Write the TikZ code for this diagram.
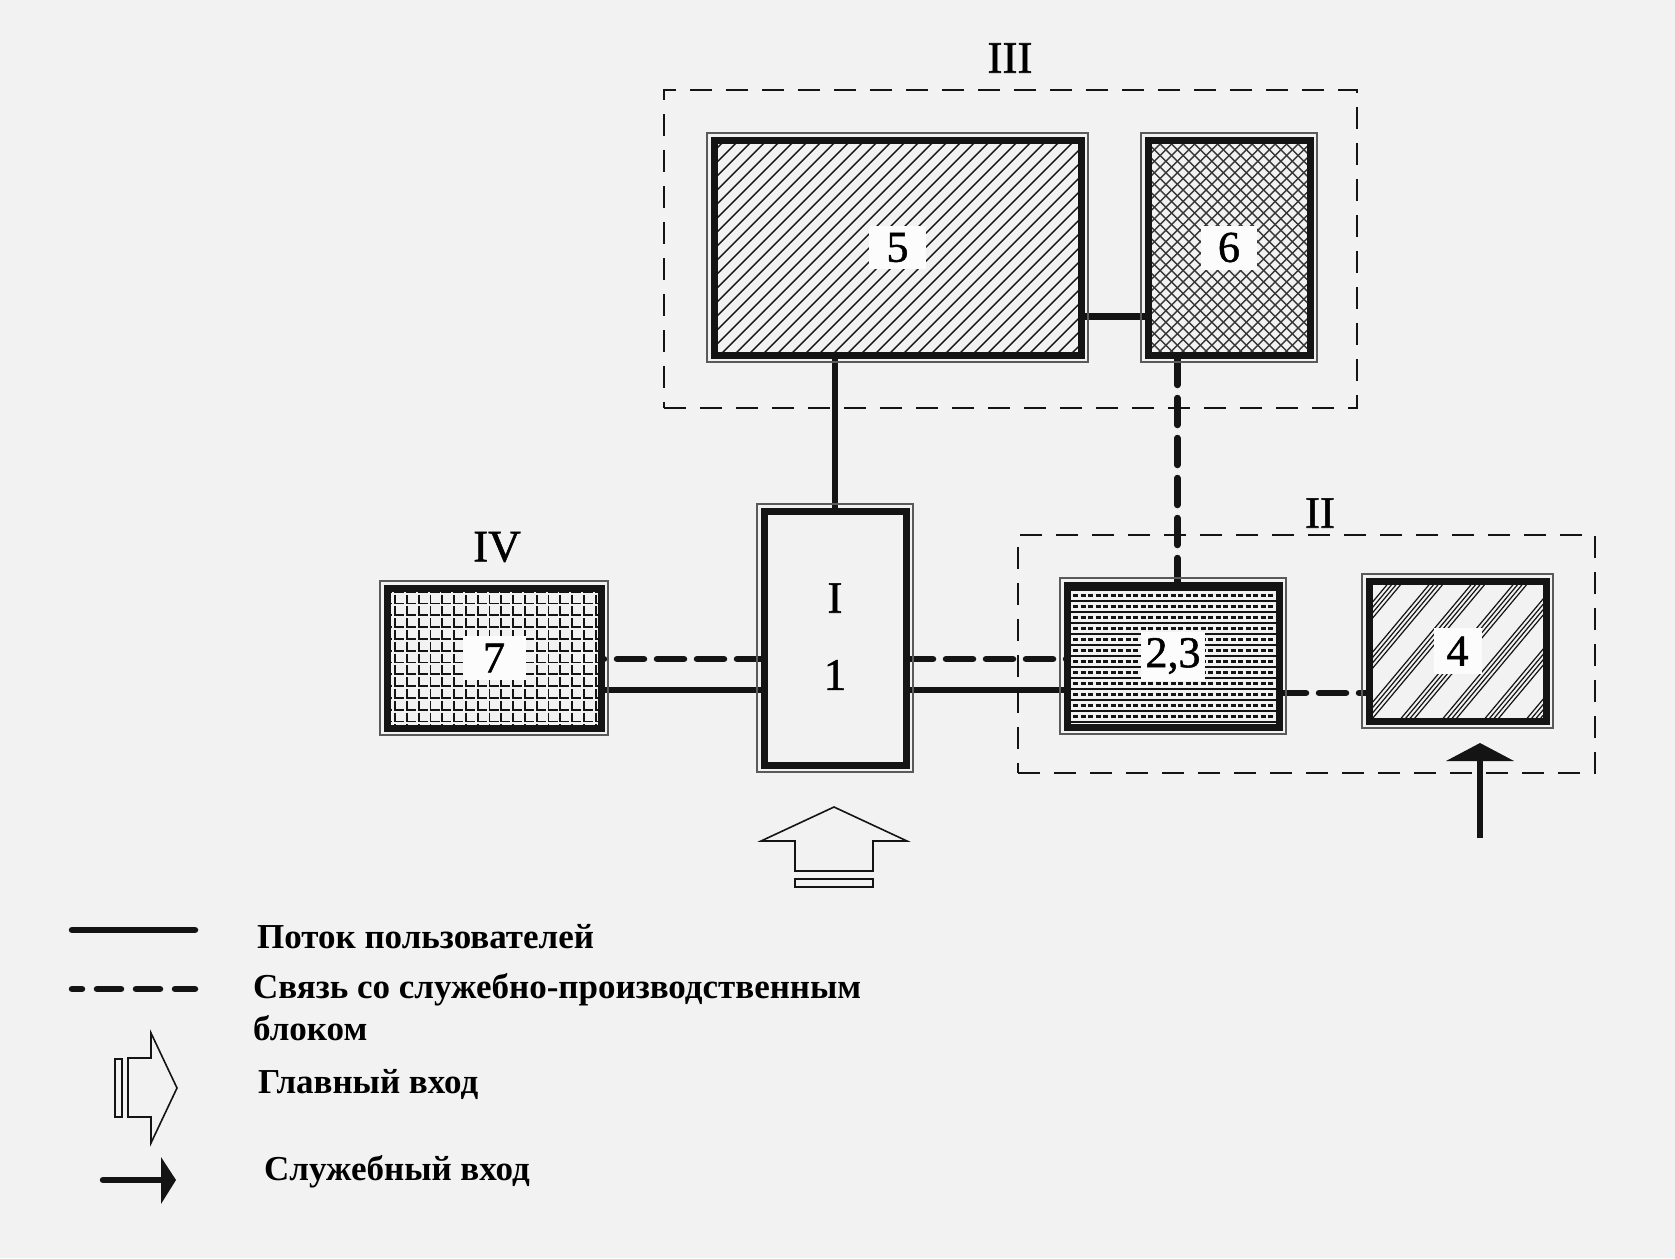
\documentclass[tikz,border=0pt]{standalone}
\usepackage{fontspec}
\setmainfont{Liberation Serif}
\newfontfamily\lblfont{Liberation Serif}[FakeBold=1.2]
\usetikzlibrary{calc}
\definecolor{paper}{RGB}{242,242,242}
\definecolor{ink}{RGB}{20,20,20}
\definecolor{lblwhite}{RGB}{252,252,252}
\newcommand\boxrim[1]{\draw[rim] ([shift={(-7pt,7pt)}]#1.north west) rectangle ([shift={(7pt,-7pt)}]#1.south east);}
\begin{document}
\begin{tikzpicture}[x=1pt,y=-1pt,
  box/.style={draw=ink, line width=7pt, rectangle, outer sep=0pt, inner sep=0pt, fill=paper},
  rim/.style={draw=ink!70, line width=1.3pt},
  region/.style={draw=ink, line width=1.8pt, dash pattern=on 22pt off 14pt, rectangle, inner sep=0pt, outer sep=0pt},
  conn/.style={ink, line width=6.5pt},
  dconn/.style={ink, line width=6.5pt, dash pattern=on 27pt off 13pt, line cap=round},
  lbl/.style={fill=lblwhite, inner sep=0pt, font=\lblfont\fontsize{44}{50}\selectfont},
  rlabel/.style={inner sep=0pt, font=\lblfont\fontsize{45}{50}\selectfont},
  legtext/.style={anchor=west, inner sep=0pt, align=left, font=\bfseries\fontsize{35}{42}\selectfont},
  hatchdiag/.style={path picture={
    \foreach \i in {-25,...,25}
      \draw[ink, line width=1.4pt] ([xshift=\i*14pt]path picture bounding box.center) ++(-260pt,-260pt) -- ++(520pt,520pt);
  }},
  hatchcross/.style={path picture={
    \foreach \i in {-18,...,18}{
      \draw[ink!85, line width=1.4pt] ([xshift=\i*11.5pt]path picture bounding box.center) ++(-260pt,-260pt) -- ++(520pt,520pt);
      \draw[ink!85, line width=1.4pt] ([xshift=\i*11.5pt]path picture bounding box.center) ++(-260pt,260pt) -- ++(520pt,-520pt);}
  }},
  hatchgrid/.style={path picture={
    \foreach \i in {-9,...,9}{\foreach \j in {-6,...,6}{
      \draw[ink, line width=1.7pt] ([shift={(\i*11.8pt-4.5pt,\j*11.8pt+4.5pt)}]path picture bounding box.center) -- ++(0pt,-9pt) -- ++(9pt,0pt);}}
  }},
  hatchhor/.style={path picture={
    \foreach \j in {-7,...,7}{
      \draw[ink, line width=1.5pt] ([yshift=\j*11pt]path picture bounding box.center) ++(-130pt,0pt) -- ++(260pt,0pt);
      \draw[ink, line width=2.2pt, dash pattern=on 5pt off 2.5pt] ([yshift=\j*11pt+5.5pt]path picture bounding box.center) ++(-130pt,0pt) -- ++(260pt,0pt);}
  }},
  hatchgroup/.style={path picture={
    \foreach \g in {-6,...,6}{\foreach \k in {0,...,3}{
      \draw[ink, line width=1.2pt] ([xshift=\g*42pt+\k*4.5pt]path picture bounding box.center) ++(-150pt,-179pt) -- ++(300pt,358pt);}}
  }}
]
\fill[paper] (0,0) rectangle (1675,1258);
\useasboundingbox (0,0) rectangle (1675,1258);

% zone frames
\node[region, minimum width=693pt, minimum height=318pt] (rIII) at (1010.5,249) {};
\node[region, minimum width=577pt, minimum height=238pt] (rII) at (1306.5,654) {};
\node[rlabel] (tIII) at (1010,58) {III};
\node[rlabel] (tII) at (1320,513) {II};
\node[rlabel] (tIV) at (497,547) {IV};

% boxes (geometry)
\path (897.5,247.5) coordinate (c5) (1229,247.5) coordinate (c6) (494,658) coordinate (c7)
      (835,638) coordinate (c1) (1173,656) coordinate (c23) (1457.5,651) coordinate (c4);
\node[box, minimum width=367pt, minimum height=215pt] (b5) at (c5) {};
\node[box, minimum width=162pt, minimum height=215pt] (b6) at (c6) {};
\node[box, minimum width=214pt, minimum height=140pt] (b7) at (c7) {};
\node[box, minimum width=142pt, minimum height=254pt] (b1) at (c1) {};
\node[box, minimum width=212pt, minimum height=142pt] (b23) at (c23) {};
\node[box, minimum width=177pt, minimum height=140pt] (b4) at (c4) {};

% connectors
\draw[conn] (b1.north) -- (b1.north |- b5.south);
\draw[conn] ($(b5.north east)!0.822!(b5.south east)$) coordinate (p56) -- (p56 -| b6.west);
\draw[dconn] ($(b23.north west)!0.52!(b23.north east)$) coordinate (p623) -- (p623 |- b6.south);
\draw[dconn] ($(b1.north west)!0.583!(b1.south west)$) coordinate (pd1) -- (pd1 -| b7.east);
\draw[conn] ($(b1.north west)!0.705!(b1.south west)$) coordinate (ps1) -- (ps1 -| b7.east);
\draw[dconn] ($(b1.north east)!0.583!(b1.south east)$) coordinate (pd2) -- (pd2 -| b23.west);
\draw[conn] ($(b1.north east)!0.705!(b1.south east)$) coordinate (ps2) -- (ps2 -| b23.west);
\draw[dconn] ($(b23.north east)!0.761!(b23.south east)$) coordinate (p234) -- (p234 -| b4.west);

% boxes drawn on top
\node[box, hatchdiag, minimum width=367pt, minimum height=215pt] at (c5) {};
\node[box, hatchcross, minimum width=162pt, minimum height=215pt] at (c6) {};
\node[box, hatchgrid, minimum width=214pt, minimum height=140pt] at (c7) {};
\node[box, minimum width=142pt, minimum height=254pt] at (c1) {};
\node[box, hatchhor, minimum width=212pt, minimum height=142pt] at (c23) {};
\node[box, hatchgroup, minimum width=177pt, minimum height=140pt] at (c4) {};
\boxrim{b5}\boxrim{b6}\boxrim{b7}\boxrim{b1}\boxrim{b23}\boxrim{b4}

% labels
\node[lbl, minimum width=57pt, minimum height=43pt] (l5) at (b5) {5};
\node[lbl, minimum width=56pt, minimum height=44pt] (l6) at (b6) {6};
\node[lbl, minimum width=63pt, minimum height=44pt] (l7) at (b7) {7};
\node[lbl, minimum width=64pt, minimum height=49pt] (l23) at (b23) {2,3};
\node[lbl, minimum width=48pt, minimum height=46pt] (l4) at (b4) {4};
\node[rlabel] (lI) at (835,598) {I};
\node[rlabel] (l1) at (835,675) {1};

% main entrance arrow
\draw[ink, line width=1.6pt, fill=paper] (834,807) -- (907,841) -- (873,841) -- (873,871) -- (795,871) -- (795,841) -- (761,841) -- cycle;
\draw[ink, line width=1.6pt] (795,879) rectangle (873,887);

% service entrance arrow
\coordinate (sv0) at (1480,838);
\coordinate (sv1) at (1480,759);
\draw[conn] (sv0) -- (sv1);
\fill[ink] (1446,761) -- (1480,743) -- (1514,761) -- cycle;

% legend
\coordinate (ls0) at (72,930); \coordinate (ls1) at (195,930);
\draw[conn, line cap=round] (ls0) -- (ls1);
\coordinate (ld0) at (72,989); \coordinate (ld1) at (195,989);
\draw[ink, line width=6.5pt, line cap=round, dash pattern=on 24pt off 15pt, dash phase=14pt] (ld0) -- (ld1);
\draw[ink, line width=1.6pt, fill=paper] (177,1088) -- (151,1143) -- (151,1117) -- (128,1117) -- (128,1058) -- (151,1058) -- (151,1033) -- cycle;
\draw[ink, line width=1.6pt] (115,1059) rectangle (122,1117);
\coordinate (la0) at (103,1180); \coordinate (la1) at (164,1180);
\draw[conn, line cap=round] (la0) -- (la1);
\fill[ink] (161,1157) -- (176,1180) -- (161,1204) -- cycle;

\node[legtext] (t1) at (257,937) {Поток пользователей};
\node[legtext] (t2) at (253,1007) {Связь со служебно-производственным\\блоком};
\node[legtext] (t3) at (258,1084) {Главный вход};
\node[legtext] (t4) at (264,1172) {Служебный вход};
\end{tikzpicture}
\end{document}
